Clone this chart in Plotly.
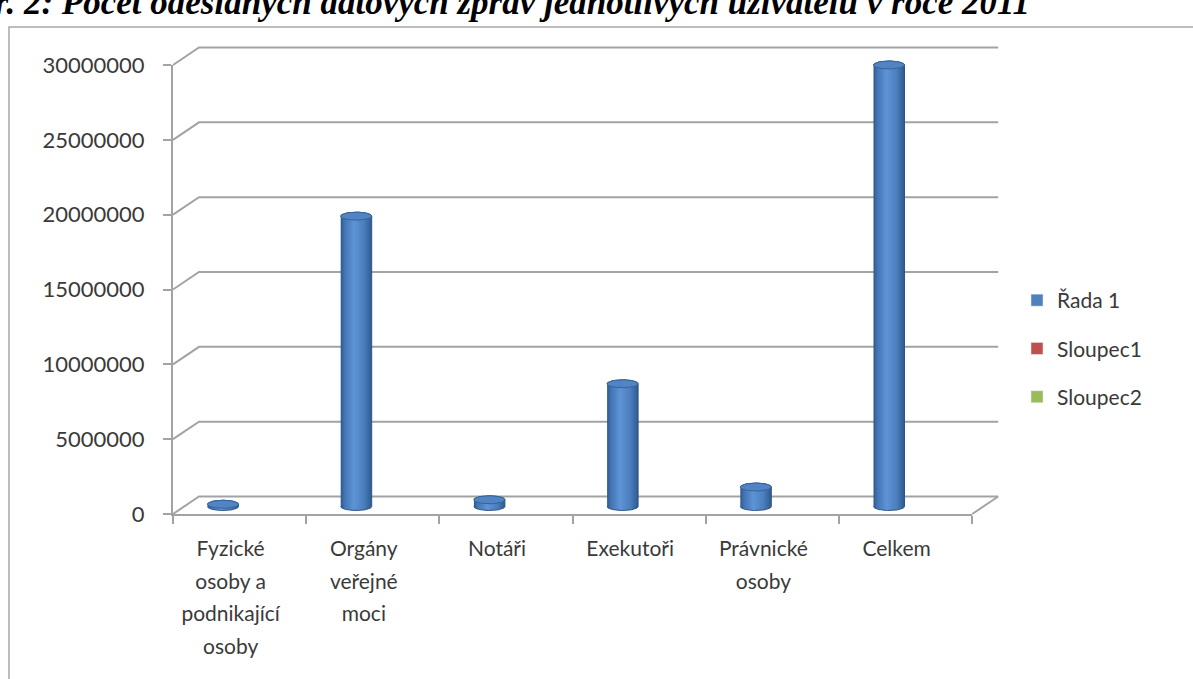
import numpy as np
import plotly.graph_objects as go

# ---- data -------------------------------------------------------------
categories = [
    "Fyzické<br>osoby a<br>podnikající<br>osoby",
    "Orgány<br>veřejné<br>moci",
    "Notáři",
    "Exekutoři",
    "Právnické<br>osoby",
    "Celkem",
]
rada_1 = [150000, 19400000, 450000, 8200000, 1300000, 29500000]
sloupec_1 = [None] * 6
sloupec_2 = [None] * 6
y_ticks = [0, 5000000, 10000000, 15000000, 20000000, 25000000, 30000000]
series_names = ["Řada 1", "Sloupec1", "Sloupec2"]
series_colors = ["#4f81bd", "#c0504d", "#9bbb59"]
title_text = "Obr. 2: Počet odeslaných datových zpráv jednotlivých uživatelů v roce 2011"

# ---- geometry of the pseudo-3D plot (pixels) ---------------------------
W, H = 1193, 679
FRONT_X0 = 173          # left end of the front floor edge
FRONT_Y0 = 514          # value 0 on the front plane
FRONT_TOP = 65          # value 30 000 000 on the front plane
CAT_PX = 133.2          # width of one category
VAL_PX = (FRONT_Y0 - FRONT_TOP) / 30e6
DEPTH_DX, DEPTH_DY = 26, 17.5   # offset of the back wall
BAR_SHIFT, BAR_LIFT = -16.6, 7.5
BAR_HALF_W, BAR_HALF_H = 15.5, 4.0
LABEL_SHIFT = -9
FRAME_TOP = 27          # top edge of the chart frame
TITLE_BOTTOM = 24       # lower edge of the caption box

# data units of the drawing plane
dx = DEPTH_DX / CAT_PX
dy = DEPTH_DY / VAL_PX
bar_dx = BAR_SHIFT / CAT_PX
bar_base = BAR_LIFT / VAL_PX
ell_a = BAR_HALF_W / CAT_PX
ell_b = BAR_HALF_H / VAL_PX
n_cat = len(categories)
x_lo, x_hi = -0.5, n_cat - 0.5

scene_xrange = [x_lo - FRONT_X0 / CAT_PX, x_lo + (W - FRONT_X0) / CAT_PX]
scene_yrange = [-(H - FRONT_Y0) / VAL_PX, FRONT_Y0 / VAL_PX]

GRID = "#a3a3a3"
TEXT = "#3a3a3a"
FONT = "Lato"

fig = go.Figure()

# back wall gridlines with the side connectors and the floor outline
gx, gy = [], []
for v in y_ticks:
    gx += [x_lo, x_lo + dx, x_hi + dx, None]
    gy += [v, v + dy, v + dy, None]
gx += [x_hi, x_hi + dx, None]
gy += [0, dy, None]
fig.add_trace(go.Scatter(x=gx, y=gy, mode="lines", line=dict(color=GRID, width=2),
                         hoverinfo="skip", showlegend=False, xaxis="x", yaxis="y"))

# cylinders of the first series
shade = [[0, "#2d5889"], [0.12, "#4274b3"], [0.42, "#5e93d5"],
         [0.75, "#4b7ebf"], [1, "#2e5a8d"]]
t_lo = np.linspace(np.pi, 2 * np.pi, 41)
t_hi = np.linspace(0, np.pi, 41)
t_all = np.linspace(0, 2 * np.pi, 81)
for i, v in enumerate(rada_1):
    cx = i + bar_dx
    top = bar_base + v
    bx = np.concatenate([cx + ell_a * np.cos(t_lo), cx + ell_a * np.cos(t_hi)])
    by = np.concatenate([bar_base + ell_b * np.sin(t_lo), top + ell_b * np.sin(t_hi)])
    fig.add_trace(go.Scatter(
        x=bx, y=by, mode="lines", fill="toself",
        fillgradient=dict(type="horizontal", colorscale=shade),
        line=dict(color="#2c5586", width=1), hoverinfo="skip",
        showlegend=False, legendgroup="r1", xaxis="x", yaxis="y"))
    fig.add_trace(go.Scatter(
        x=cx + ell_a * np.cos(t_all), y=top + ell_b * np.sin(t_all),
        mode="lines", fill="toself", fillcolor="#5284c3",
        line=dict(color="#36639a", width=1), hoverinfo="skip",
        showlegend=False, legendgroup="r1", xaxis="x", yaxis="y"))

# legend entries
for name, color, vals in zip(series_names, series_colors, [[None] * 6, sloupec_1, sloupec_2]):
    fig.add_trace(go.Bar(x=list(range(n_cat)), y=vals, name=name, marker_color=color,
                         legendgroup=name, xaxis="x", yaxis="y"))

# front axes: value axis and category boundary ticks
fig.add_trace(go.Scatter(x=[None], y=[None], xaxis="x2", yaxis="y2",
                         showlegend=False, hoverinfo="skip"))
fig.add_trace(go.Scatter(x=[None], y=[None], xaxis="x3", yaxis="y2",
                         showlegend=False, hoverinfo="skip"))

LBL = 21
tick_text = ["<br>".join(f'<span style="font-size:{LBL}px">{ln}</span>' for ln in c.split("<br>"))
             for c in categories]

fig.update_layout(
    width=W, height=H, autosize=False,
    margin=dict(l=0, r=0, t=0, b=0, pad=0, autoexpand=False),
    paper_bgcolor="white", plot_bgcolor="rgba(0,0,0,0)",
    showlegend=True, barmode="group",
    xaxis=dict(domain=[0, 1], range=scene_xrange, visible=False, fixedrange=True,
               automargin=False),
    yaxis=dict(domain=[0, 1], range=scene_yrange, visible=False, fixedrange=True,
               automargin=False),
    xaxis2=dict(
        domain=[FRONT_X0 / W, (FRONT_X0 + n_cat * CAT_PX) / W], anchor="y2",
        range=[x_lo, x_hi], tickvals=[k - 0.5 for k in range(n_cat + 1)],
        showticklabels=False, ticks="outside", ticklen=8, tickwidth=2, tickcolor=GRID,
        showline=True, linecolor=GRID, linewidth=2, showgrid=False, zeroline=False,
        automargin=False,
    ),
    xaxis3=dict(
        domain=[(FRONT_X0 + LABEL_SHIFT) / W, (FRONT_X0 + LABEL_SHIFT + n_cat * CAT_PX) / W],
        anchor="y2", range=[x_lo, x_hi], tickvals=list(range(n_cat)), ticktext=tick_text,
        ticks="", showline=False, showgrid=False, zeroline=False, automargin=False,
        tickfont=dict(family=FONT, size=25, color=TEXT), ticklabelstandoff=16,
    ),
    yaxis2=dict(
        domain=[(H - FRONT_Y0) / H, (H - FRONT_TOP) / H], anchor="x2",
        range=[0, 30e6], tickvals=y_ticks, tickformat="d",
        ticks="outside", ticklen=8, tickwidth=2, tickcolor=GRID,
        showline=True, linecolor=GRID, linewidth=2, showgrid=False, zeroline=False,
        tickfont=dict(family=FONT, size=22, color=TEXT), ticklabelstandoff=14,
        automargin=False,
    ),
    legend=dict(
        x=1017 / W, y=1 - 280 / H, xanchor="left", yanchor="top",
        traceorder="grouped", tracegroupgap=18,
        font=dict(family=FONT, size=21, color=TEXT), bgcolor="rgba(0,0,0,0)",
    ),
    shapes=[dict(type="rect", xref="paper", yref="paper",
                 x0=9 / W, x1=1.02, y0=-0.02, y1=1 - FRAME_TOP / H,
                 line=dict(color="#a8a8a8", width=1.5), layer="below")],
    annotations=[dict(
        text=f"<b><i>{title_text}</i></b>", xref="paper", yref="paper",
        x=1032 / W, y=1 - TITLE_BOTTOM / H, xanchor="right", yanchor="bottom",
        showarrow=False,
        font=dict(family="Liberation Serif", size=35, color="black"))],
)

fig.write_html("out.html")
